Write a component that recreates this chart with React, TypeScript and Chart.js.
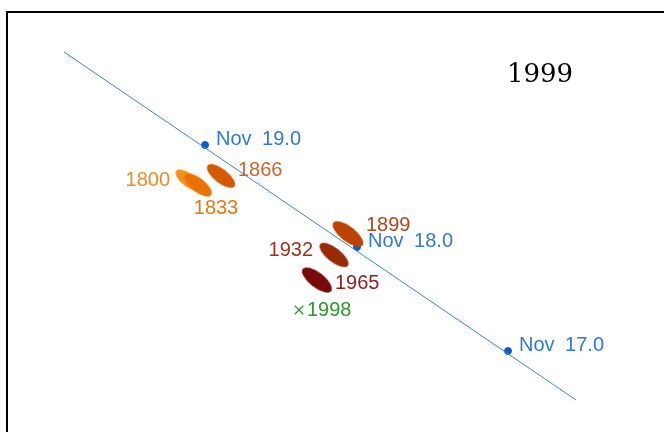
import { useEffect, useRef } from "react";
import { Chart, registerables } from "chart.js";

Chart.register(...registerables);

// Data space: x to the right, y downward (abstract sky-plane units)
const trackX = [57, 569];
const trackY = [40, 388];

const nodeLabels = ["Nov 19.0", "Nov 18.0", "Nov 17.0"];
const nodeX = [198, 350, 501];
const nodeY = [133, 235, 339];

const trailYears = ["1800", "1833", "1866", "1899", "1932", "1965"];
const trailX = [181, 191, 214, 341, 327, 310];
const trailY = [168, 173, 164, 222, 243, 268];

const markerLabel = ["1998"];
const markerX = [292];
const markerY = [298];

const titleText = "1999";
const titleX = 533;
const titleY = 63;

// styles
const trailFill = ["#f5901e", "#ea7300", "#d45a00", "#bc4300", "#9a2a06", "#780a0a"];
const trailText = ["#f08b22", "#e8780f", "#d0632a", "#b5441c", "#a0311e", "#8f2020"];
const trailSize = [[30, 13], [33, 14], [34, 14], [37, 15], [35, 14], [36, 15]];
const trailLabelPos = [
  { dx: -18, dy: 0, align: "right" },
  { dx: 18, dy: 23, align: "center" },
  { dx: 17, dy: -6, align: "left" },
  { dx: 18, dy: -9, align: "left" },
  { dx: -21, dy: -5, align: "right" },
  { dx: 18, dy: 3, align: "left" },
];
const nodeLabelPos = { dx: 11, dy: -6, align: "left" };
const markerLabelPos = { dx: 8, dy: 0, align: "left" };

const BLUE_LINE = "#3a82da";
const BLUE_DOT = "#0a5ccc";
const BLUE_TEXT = "#2f7ad6";
const GREEN = "#2a9a2a";
const LABEL_FONT = "20px 'Liberation Sans', Arial, sans-serif";

function ellipseCanvas(w: number, h: number, color: string) {
  const c = document.createElement("canvas");
  c.width = w + 2;
  c.height = h + 2;
  const ctx = c.getContext("2d")!;
  ctx.fillStyle = color;
  ctx.beginPath();
  ctx.ellipse(c.width / 2, c.height / 2, w / 2, h / 2, 0, 0, Math.PI * 2);
  ctx.fill();
  return c;
}

const labelPlugin = {
  id: "pointLabels",
  afterDatasetsDraw(chart: any) {
    const ctx = chart.ctx;
    ctx.save();
    ctx.font = LABEL_FONT;
    ctx.textBaseline = "middle";
    if ("wordSpacing" in ctx) (ctx as any).wordSpacing = "5px";
    chart.data.datasets.forEach((ds: any, di: number) => {
      const spec = ds.labelSpec;
      if (!spec) return;
      const meta = chart.getDatasetMeta(di);
      meta.data.forEach((el: any, i: number) => {
        const s = Array.isArray(spec.pos) ? spec.pos[i] : spec.pos;
        ctx.fillStyle = Array.isArray(spec.color) ? spec.color[i] : spec.color;
        ctx.textAlign = s.align;
        ctx.fillText(spec.text[i], el.x + s.dx, el.y + s.dy);
      });
    });
    if ("wordSpacing" in ctx) (ctx as any).wordSpacing = "0px";
    const xs = chart.scales.x;
    const ys = chart.scales.y;
    ctx.font = "26px 'DejaVu Serif', serif";
    ctx.fillStyle = "#000";
    ctx.textAlign = "center";
    ctx.fillText(titleText, xs.getPixelForValue(titleX), ys.getPixelForValue(titleY));
    ctx.restore();
  },
};

export default function App() {
  const ref = useRef<HTMLCanvasElement>(null);
  useEffect(() => {
    if (!ref.current) return;
    const styles = trailYears.map((_, i) => ellipseCanvas(trailSize[i][0], trailSize[i][1], trailFill[i]));
    const chart = new Chart(ref.current, {
      type: "scatter",
      data: {
        datasets: [
          {
            type: "line",
            data: trackX.map((x, i) => ({ x, y: trackY[i] })),
            borderColor: BLUE_LINE,
            borderWidth: 1,
            pointRadius: 0,
            showLine: true,
          } as any,
          {
            data: trailX.map((x, i) => ({ x, y: trailY[i] })),
            pointStyle: styles as any,
            rotation: 38,
            labelSpec: { text: trailYears, color: trailText, pos: trailLabelPos },
          } as any,
          {
            data: nodeX.map((x, i) => ({ x, y: nodeY[i] })),
            pointStyle: "circle",
            pointRadius: 3.5,
            backgroundColor: BLUE_DOT,
            borderColor: BLUE_DOT,
            borderWidth: 1,
            labelSpec: { text: nodeLabels, color: BLUE_TEXT, pos: nodeLabelPos },
          } as any,
          {
            data: markerX.map((x, i) => ({ x, y: markerY[i] })),
            pointStyle: "crossRot",
            pointRadius: 6,
            borderColor: GREEN,
            borderWidth: 1.3,
            labelSpec: { text: markerLabel, color: GREEN, pos: markerLabelPos },
          } as any,
        ],
      },
      options: {
        animation: false,
        responsive: false,
        layout: { autoPadding: false, padding: { left: 7, top: 12, right: 0, bottom: 0 } },
        plugins: { legend: { display: false }, tooltip: { enabled: false } },
        events: [],
        scales: {
          x: {
            type: "linear",
            position: "top",
            min: 0,
            max: 657,
            ticks: { display: false },
            grid: { display: false, drawTicks: false },
            border: { display: true, color: "#000", width: 2 },
          },
          y: {
            type: "linear",
            position: "left",
            min: 0,
            max: 420,
            reverse: true,
            ticks: { display: false },
            grid: { display: false, drawTicks: false },
            border: { display: true, color: "#000", width: 2 },
          },
        },
      },
      plugins: [labelPlugin],
    });
    return () => chart.destroy();
  }, []);
  return (
    <canvas
      ref={ref}
      width={664}
      height={432}
      style={{ position: "absolute", left: 0, top: 0, width: 664, height: 432 }}
    />
  );
}
